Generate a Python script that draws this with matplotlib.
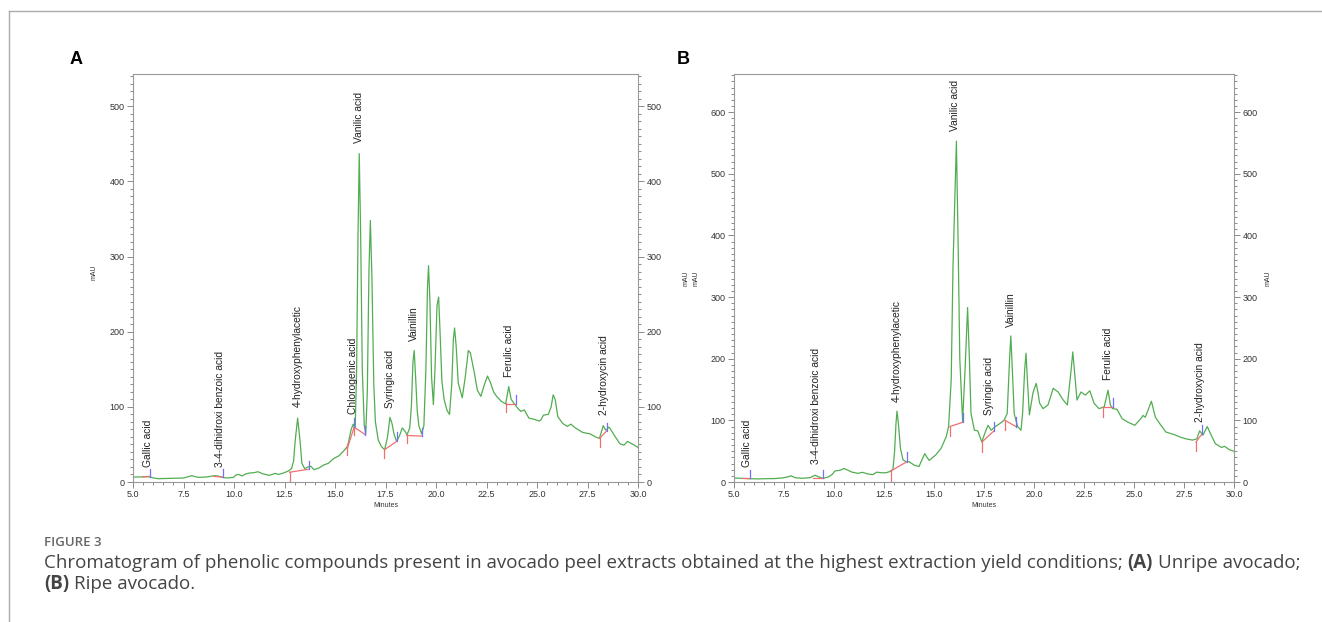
import matplotlib
matplotlib.use('Agg')
import matplotlib.pyplot as plt
from matplotlib.ticker import MultipleLocator

plt.rcParams['font.family'] = ['Liberation Sans', 'DejaVu Sans']

# ---- panel A: unripe avocado (minutes, mAU) ----
a_time = [5.0, 5.5, 5.76, 6.0, 6.24, 6.7, 7.04, 7.5, 7.91, 8.23, 8.63, 9.03, 9.2, 9.45,
          9.67, 9.98, 10.1, 10.25, 10.4, 10.57, 10.78, 11.0, 11.18, 11.42, 11.74, 12.05,
          12.2, 12.45, 12.69, 12.85, 12.95, 13.03, 13.15, 13.27, 13.36, 13.5, 13.65, 13.8,
          13.96, 14.2, 14.44, 14.68, 14.92, 15.2, 15.45, 15.63, 15.8, 15.9, 16.0, 16.07,
          16.14, 16.2, 16.27, 16.35, 16.45, 16.52, 16.6, 16.68, 16.75, 16.83, 16.92, 17.0,
          17.14, 17.3, 17.46, 17.6, 17.72, 17.82, 17.92, 18.05, 18.2, 18.33, 18.45, 18.57,
          18.7, 18.78, 18.86, 18.92, 18.99, 19.07, 19.15, 19.29, 19.4, 19.5, 19.58, 19.63,
          19.7, 19.78, 19.87, 19.95, 20.05, 20.13, 20.2, 20.29, 20.4, 20.55, 20.67, 20.78,
          20.86, 20.92, 21.0, 21.1, 21.3, 21.45, 21.6, 21.7, 21.9, 22.05, 22.22, 22.4,
          22.55, 22.7, 22.85, 23.0, 23.25, 23.45, 23.6, 23.72, 23.85, 24.05, 24.2, 24.37,
          24.6, 24.92, 25.1, 25.2, 25.32, 25.56, 25.7, 25.8, 25.9, 26.03, 26.27, 26.5,
          26.67, 26.9, 27.26, 27.63, 27.9, 28.09, 28.2, 28.28, 28.38, 28.43, 28.55, 28.6,
          28.83, 29.1, 29.3, 29.48, 29.76, 30.0]
a_mau = [6.6, 6.8, 7.5, 5.5, 4.4, 4.8, 5.0, 5.3, 8.4, 6.2, 6.6, 8.4, 8.0, 6.0,
         5.3, 6.2, 9.5, 10, 8, 10.6, 12, 12.4, 13.7, 11, 8.8, 11.5,
         10, 12, 14.6, 18, 28, 55, 85, 55, 25, 17.7, 20, 21,
         16.4, 18.6, 22.6, 25, 31, 35, 42, 48, 70, 77, 72, 150,
         330, 437, 330, 150, 75, 64, 120, 280, 348, 270, 130, 80,
         56, 47, 43, 60, 86, 78, 64, 54, 62, 72, 68, 63,
         72, 100, 160, 175, 140, 95, 75, 64, 75, 150, 260, 288,
         240, 140, 103, 150, 235, 246, 200, 135, 110, 95, 90, 130,
         190, 205, 180, 132, 112, 140, 175, 172, 145, 122, 114, 130,
         141, 132, 120, 114, 107, 104, 127, 110, 105, 98, 94, 96,
         85, 83, 81, 83, 89, 90, 100, 116, 110, 87, 78, 74,
         77, 72, 66, 64, 60, 58, 68, 75, 70, 69, 73, 72,
         62, 51, 49, 54, 50, 46]

# integration marks: baselines (t0, y0, t1, y1), tick marks (t, y_low, y_high)
a_baselines = [(5.5, 6.8, 5.85, 7.0), (9.0, 7.5, 9.45, 6.5), (12.75, 13, 13.7, 17),
               (15.6, 44, 15.95, 73), (15.95, 73, 16.5, 63), (17.45, 43, 18.05, 54),
               (18.55, 62, 19.3, 61), (23.45, 104, 23.95, 104), (28.1, 58, 28.45, 68)]
a_red_ticks = [(12.75, 0, 13), (15.6, 36, 50), (15.95, 62, 73), (17.45, 32, 43),
               (18.55, 52, 63), (23.45, 93, 105), (28.1, 46, 58)]
a_blue_ticks = [(5.85, 7, 17), (9.45, 6.5, 17), (13.7, 17, 28), (15.95, 73, 85),
                (16.5, 63, 75), (18.05, 54, 66), (19.3, 61, 72), (23.95, 104, 116),
                (28.45, 68, 79)]

a_names = ['Gallic acid', '3-4-dihidroxi benzoic acid', '4-hydroxyphenylacetic',
           'Chlorogenic acid', 'Vanilic acid', 'Syringic acid', 'Vainillin',
           'Ferulic acid', '2-hydroxycin acid']
a_name_t = [5.75, 9.3, 13.15, 15.9, 16.2, 17.7, 18.9, 23.6, 28.3]
a_name_y = [20, 20, 100, 91, 451, 98, 187, 140, 89]

# ---- panel B: ripe avocado ----
b_time = [5.0, 5.4, 5.72, 6.2, 6.6, 7.0, 7.4, 7.65, 7.85, 8.05, 8.4, 8.8, 9.05, 9.25,
          9.45, 9.7, 9.9, 10.05, 10.3, 10.5, 10.7, 10.9, 11.2, 11.42, 11.7, 11.93, 12.15,
          12.35, 12.6, 12.8, 12.95, 13.03, 13.1, 13.15, 13.22, 13.32, 13.45, 13.6, 13.75,
          14.0, 14.25, 14.45, 14.54, 14.65, 14.76, 15.09, 15.36, 15.61, 15.73, 15.86, 15.95,
          16.12, 16.2, 16.29, 16.43, 16.55, 16.68, 16.77, 16.85, 17.02, 17.19, 17.39, 17.55,
          17.7, 17.86, 18.07, 18.3, 18.5, 18.66, 18.78, 18.84, 18.92, 19.01, 19.18, 19.35,
          19.43, 19.53, 19.6, 19.68, 19.77, 19.95, 20.11, 20.2, 20.28, 20.45, 20.7, 20.96,
          21.21, 21.46, 21.67, 21.85, 21.94, 22.05, 22.15, 22.35, 22.57, 22.79, 23.0, 23.25,
          23.51, 23.7, 23.82, 23.93, 24.15, 24.4, 24.7, 25.04, 25.35, 25.45, 25.56, 25.66,
          25.87, 26.07, 26.28, 26.6, 27.0, 27.3, 27.6, 27.93, 28.14, 28.28, 28.45, 28.66,
          28.86, 29.07, 29.38, 29.52, 29.79, 30.0]
b_mau = [6.5, 6, 5.4, 5.0, 5.4, 5.5, 6.5, 8, 10, 7, 6, 7, 11, 8,
         6, 8, 12, 18, 19, 22, 19, 16, 14, 15.7, 13, 12, 16,
         15, 15, 17, 21, 50, 95, 115, 95, 55, 36, 33, 33,
         27.6, 25, 40, 46, 40, 35, 44, 55, 73.5, 90, 165, 350,
         553, 400, 200, 98, 180, 283, 200, 111, 84, 83, 65, 80,
         92, 84, 90, 95, 100, 111, 200, 237, 180, 111, 90, 84,
         111, 180, 209, 160, 109, 145, 160, 145, 128, 119, 125, 152,
         146, 133, 125, 180, 211, 170, 133, 146, 141, 148, 128, 119,
         122, 149, 125, 119, 118, 103, 97, 92, 103, 108, 105, 113,
         131, 105, 95, 81, 77, 73, 70, 68, 70, 83, 76, 90,
         76, 62, 56, 58, 52, 50]

b_baselines = [(5.4, 6, 5.8, 6), (8.95, 7, 9.45, 7), (12.85, 18, 13.65, 33),
               (15.8, 90, 16.45, 97), (17.4, 65, 18.0, 83), (18.55, 100, 19.1, 90),
               (23.45, 121, 23.95, 121), (28.1, 65, 28.4, 78)]
b_red_ticks = [(12.85, 2, 18), (15.8, 75, 90), (17.4, 48, 65), (18.55, 85, 100),
               (23.45, 105, 121), (28.1, 50, 65)]
b_blue_ticks = [(5.8, 6, 20), (9.45, 6, 20), (13.65, 33, 48), (16.45, 97, 112),
                (18.0, 83, 97), (19.1, 90, 105), (23.95, 121, 136), (28.4, 78, 92)]

b_names = ['Gallic acid', '3-4-dihidroxi benzoic acid', '4-hydroxyphenylacetic',
           'Vanilic acid', 'Syringic acid', 'Vainillin', 'Ferulic acid',
           '2-hydroxycin acid']
b_name_t = [5.65, 9.1, 13.15, 16.05, 17.75, 18.85, 23.7, 28.3]
b_name_y = [24, 30, 130, 569, 108, 252, 165, 97]

GREEN = '#52ad52'
RED = '#f07070'
BLUE = '#7070ff'
W, H = 1322, 622

fig = plt.figure(figsize=(W / 100, H / 100), dpi=100)


def px_axes(left, top, right, bottom):
    return fig.add_axes([left / W, 1 - bottom / H, (right - left) / W, (bottom - top) / H])


def draw_panel(ax, t, y, ymax, baselines, red_ticks, blue_ticks, names, name_t, name_y):
    ax.plot(t, y, color=GREEN, lw=0.9)
    for t0, y0, t1, y1 in baselines:
        ax.plot([t0, t1], [y0, y1], color=RED, lw=0.9)
    for tt, y0, y1 in red_ticks:
        ax.plot([tt, tt], [y0, y1], color=RED, lw=0.9)
    for tt, y0, y1 in blue_ticks:
        ax.plot([tt, tt], [y0, y1], color=BLUE, lw=0.9)
    for name, nt, ny in zip(names, name_t, name_y):
        ax.text(nt, ny, name, rotation=90, ha='center', va='bottom', fontsize=7.4, color='#222')
    ax.set_xlim(5, 30)
    ax.set_ylim(0, ymax)
    ax.xaxis.set_major_locator(MultipleLocator(2.5))
    ax.xaxis.set_minor_locator(MultipleLocator(0.5))
    ax.yaxis.set_major_locator(MultipleLocator(100))
    ax.yaxis.set_minor_locator(MultipleLocator(10))
    ax.xaxis.set_major_formatter(lambda v, p: f'{v:.1f}')
    ax.tick_params(which='both', direction='out', colors='#777', labelcolor='#333',
                   labelsize=6.5, right=True, labelright=True, top=False, width=0.6, pad=2)
    ax.tick_params(which='major', length=4)
    ax.tick_params(which='minor', length=2)
    for lab in ax.get_xticklabels() + ax.yaxis.get_ticklabels(which='both'):
        lab.set_family(['Liberation Sans Narrow', 'Liberation Sans'])
    for lab in ax.yaxis.get_ticklabels(which='both', minor=False):
        lab.set_family(['Liberation Sans Narrow', 'Liberation Sans'])
    for s in ax.spines.values():
        s.set_color('#999')
        s.set_linewidth(0.8)
    ax.set_xlabel('Minutes', fontsize=5, color='#333', labelpad=2)


ax_a = px_axes(133, 74, 638, 482)
draw_panel(ax_a, a_time, a_mau, 543, a_baselines, a_red_ticks, a_blue_ticks,
           a_names, a_name_t, a_name_y)
ax_b = px_axes(734, 74, 1234, 482)
draw_panel(ax_b, b_time, b_mau, 662, b_baselines, b_red_ticks, b_blue_ticks,
           b_names, b_name_t, b_name_y)

# axis titles: left/right of A, left/right of B
for x_px, y_px in [(94, 272), (686, 278), (696, 278), (1268, 278)]:
    fig.text(x_px / W, 1 - y_px / H, 'mAU', rotation=90, fontsize=5, ha='center',
             va='center', color='#333')

# panel letters
fig.text(76 / W, 1 - 60 / H, 'A', fontsize=13, fontweight='bold', ha='center', va='center')
fig.text(683 / W, 1 - 60 / H, 'B', fontsize=13, fontweight='bold', ha='center', va='center')

# page frame
fig.add_artist(plt.Line2D([9 / W, 1], [1 - 11 / H, 1 - 11 / H], color='#aaa', lw=1))
fig.add_artist(plt.Line2D([9 / W, 9 / W], [0, 1 - 11 / H], color='#aaa', lw=1))

# caption
CAP = '#444'
CAPFONT = ['Open Sans', 'DejaVu Sans']
fig.text(44 / W, 1 - 542 / H, 'FIGURE 3', fontsize=9.5, fontweight='semibold',
         family=CAPFONT, color='#666', va='center')

renderer = fig.canvas.get_renderer()


def text_width(s, weight, size):
    t = fig.text(0, 0, s, fontsize=size, fontweight=weight, family=CAPFONT)
    w = t.get_window_extent(renderer=renderer).width
    t.remove()
    return w


def rich_line(x_px, y_px, parts, size):
    space = text_width('a a', 'normal', size) - text_width('aa', 'normal', size)
    x = x_px
    for txt, bold in parts:
        weight = 'bold' if bold else 'normal'
        fig.text(x / W, 1 - y_px / H, txt, fontsize=size, fontweight=weight,
                 family=CAPFONT, color=CAP, va='center')
        x += text_width(txt, weight, size) + space


CAP_SIZE = 13.5
rich_line(44, 563, [('Chromatogram of phenolic compounds present in avocado peel extracts '
                     'obtained at the highest extraction yield conditions;', False),
                    ('(A)', True), ('Unripe avocado;', False)], CAP_SIZE)
rich_line(44, 584, [('(B)', True), ('Ripe avocado.', False)], CAP_SIZE)

fig.savefig('out.png', dpi=100, facecolor='white')
